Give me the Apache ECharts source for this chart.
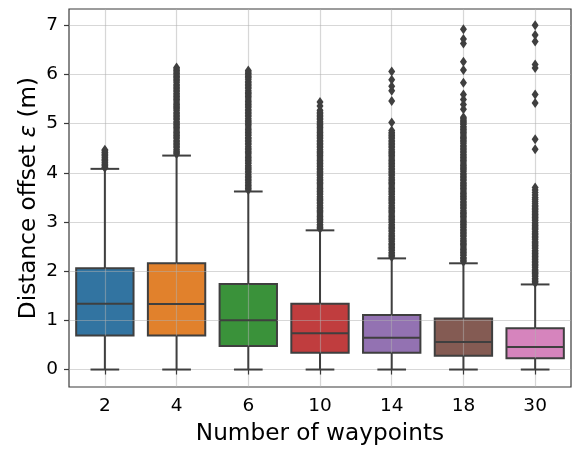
<!DOCTYPE html>
<html>
<head>
<meta charset="utf-8">
<script src="https://cdn.jsdelivr.net/npm/echarts@6/dist/echarts.min.js"></script>
<style>html,body{margin:0;padding:0;background:#fff;}#c{width:575px;height:450px;}</style>
</head>
<body>
<div id="c"></div>
<script>
// Categories (number of waypoints)
var categories = ['2', '4', '6', '10', '14', '18', '30'];
// Box statistics: [lowerWhisker, Q1, median, Q3, upperWhisker]
var box2  = [0, 0.69, 1.34, 2.06, 4.08];
var box4  = [0, 0.69, 1.33, 2.16, 4.35];
var box6  = [0, 0.48, 1.00, 1.74, 3.62];
var box10 = [0, 0.34, 0.74, 1.34, 2.83];
var box14 = [0, 0.34, 0.645, 1.11, 2.26];
var box18 = [0, 0.28, 0.56, 1.04, 2.16];
var box30 = [0, 0.23, 0.46, 0.84, 1.73];
// Outliers (fliers)
var out2 = [4.10, 4.12, 4.15, 4.17, 4.20, 4.22, 4.25, 4.27, 4.30, 4.32, 4.35, 4.37, 4.40, 4.42, 4.45, 4.47];
var out4 = [4.38, 4.41, 4.44, 4.47, 4.51, 4.54, 4.57, 4.60, 4.63, 4.66, 4.70, 4.73, 4.76, 4.79, 4.82, 4.85, 4.89, 4.92, 4.95, 4.98, 5.01, 5.04, 5.08, 5.11, 5.14, 5.17, 5.20, 5.23, 5.27, 5.30, 5.33, 5.36, 5.39, 5.42, 5.46, 5.49, 5.52, 5.55, 5.58, 5.61, 5.65, 5.68, 5.71, 5.74, 5.77, 5.80, 5.84, 5.87, 5.90, 5.93, 5.96, 5.99, 6.02, 6.05, 6.08, 6.11, 6.14];
var out6 = [3.65, 3.68, 3.71, 3.74, 3.77, 3.81, 3.84, 3.87, 3.90, 3.93, 3.96, 4.00, 4.03, 4.06, 4.09, 4.12, 4.15, 4.19, 4.22, 4.25, 4.28, 4.31, 4.34, 4.38, 4.41, 4.44, 4.47, 4.50, 4.53, 4.57, 4.60, 4.63, 4.66, 4.69, 4.72, 4.76, 4.79, 4.82, 4.85, 4.88, 4.91, 4.95, 4.98, 5.01, 5.04, 5.07, 5.10, 5.14, 5.17, 5.20, 5.23, 5.26, 5.29, 5.33, 5.36, 5.39, 5.42, 5.45, 5.48, 5.52, 5.55, 5.58, 5.61, 5.64, 5.67, 5.71, 5.74, 5.77, 5.80, 5.83, 5.86, 5.90, 5.93, 5.96, 5.99, 6.02, 6.05, 6.08];
var out10 = [2.86, 2.89, 2.92, 2.95, 2.99, 3.02, 3.05, 3.08, 3.11, 3.14, 3.18, 3.21, 3.24, 3.27, 3.30, 3.33, 3.37, 3.40, 3.43, 3.46, 3.49, 3.52, 3.56, 3.59, 3.62, 3.65, 3.68, 3.71, 3.75, 3.78, 3.81, 3.84, 3.87, 3.90, 3.94, 3.97, 4.00, 4.03, 4.06, 4.09, 4.13, 4.16, 4.19, 4.22, 4.25, 4.28, 4.32, 4.35, 4.38, 4.41, 4.44, 4.47, 4.51, 4.54, 4.57, 4.60, 4.63, 4.66, 4.70, 4.73, 4.76, 4.79, 4.82, 4.85, 4.89, 4.92, 4.95, 4.98, 5.01, 5.04, 5.08, 5.11, 5.14, 5.17, 5.20, 5.23, 5.27, 5.36, 5.44];
var out14 = [2.29, 2.32, 2.35, 2.38, 2.42, 2.45, 2.48, 2.51, 2.54, 2.57, 2.61, 2.64, 2.67, 2.70, 2.73, 2.76, 2.80, 2.83, 2.86, 2.89, 2.92, 2.95, 2.99, 3.02, 3.05, 3.08, 3.11, 3.14, 3.18, 3.21, 3.24, 3.27, 3.30, 3.33, 3.37, 3.40, 3.43, 3.46, 3.49, 3.52, 3.56, 3.59, 3.62, 3.65, 3.68, 3.71, 3.75, 3.78, 3.81, 3.84, 3.87, 3.90, 3.94, 3.97, 4.00, 4.03, 4.06, 4.09, 4.13, 4.16, 4.19, 4.22, 4.25, 4.28, 4.32, 4.35, 4.38, 4.41, 4.44, 4.47, 4.51, 4.54, 4.57, 4.60, 4.63, 4.66, 4.70, 4.73, 4.76, 4.79, 4.82, 4.86, 5.02, 5.46, 5.67, 5.76, 5.89, 6.06];
var out18 = [2.19, 2.22, 2.25, 2.28, 2.32, 2.35, 2.38, 2.41, 2.44, 2.47, 2.51, 2.54, 2.57, 2.60, 2.63, 2.66, 2.70, 2.73, 2.76, 2.79, 2.82, 2.85, 2.89, 2.92, 2.95, 2.98, 3.01, 3.04, 3.08, 3.11, 3.14, 3.17, 3.20, 3.23, 3.27, 3.30, 3.33, 3.36, 3.39, 3.42, 3.46, 3.49, 3.52, 3.55, 3.58, 3.61, 3.65, 3.68, 3.71, 3.74, 3.77, 3.80, 3.84, 3.87, 3.90, 3.93, 3.96, 3.99, 4.03, 4.06, 4.09, 4.12, 4.15, 4.18, 4.22, 4.25, 4.28, 4.31, 4.34, 4.37, 4.41, 4.44, 4.47, 4.50, 4.53, 4.56, 4.60, 4.63, 4.66, 4.69, 4.72, 4.75, 4.79, 4.82, 4.85, 4.88, 4.91, 4.94, 4.98, 5.01, 5.04, 5.07, 5.10, 5.13, 5.29, 5.39, 5.49, 5.59, 5.83, 6.09, 6.26, 6.63, 6.72, 6.92];
var out30 = [1.76, 1.79, 1.82, 1.85, 1.89, 1.92, 1.95, 1.98, 2.01, 2.04, 2.08, 2.11, 2.14, 2.17, 2.20, 2.23, 2.27, 2.30, 2.33, 2.36, 2.39, 2.42, 2.46, 2.49, 2.52, 2.55, 2.58, 2.61, 2.65, 2.68, 2.71, 2.74, 2.77, 2.80, 2.84, 2.87, 2.90, 2.93, 2.96, 2.99, 3.03, 3.06, 3.09, 3.12, 3.15, 3.18, 3.22, 3.25, 3.28, 3.31, 3.34, 3.38, 3.42, 3.46, 3.50, 3.55, 3.60, 3.65, 3.70, 4.48, 4.68, 5.42, 5.59, 6.13, 6.20, 6.67, 6.80, 7.00];
// Y tick labels
var yTicks = [0, 1, 2, 3, 4, 5, 6, 7];

var boxColors = ['#3274a1', '#e1812c', '#3a923a', '#c03d3e', '#9372b2', '#845b53', '#d684bd'];
var lineColor = '#3f3f3f';
var FONT = 'DejaVu Sans';

var boxes = [box2, box4, box6, box10, box14, box18, box30];
var outs = [out2, out4, out6, out10, out14, out18, out30];

var boxData = boxes.map(function (b, i) { return [i].concat(b); });
var outData = [];
outs.forEach(function (arr, i) { arr.forEach(function (v) { outData.push([i, v]); }); });

function renderBody(params, api) {
  var i = api.value(0);
  var band = api.size([1, 0])[0];
  var hw = band * 0.4;
  var q1 = api.coord([i, api.value(2)]);
  var q3 = api.coord([i, api.value(4)]);
  return {
    type: 'rect',
    shape: { x: q1[0] - hw, y: q3[1], width: hw * 2, height: q1[1] - q3[1] },
    style: { fill: boxColors[params.dataIndex], stroke: lineColor, lineWidth: 2 }
  };
}

function renderLines(params, api) {
  var i = api.value(0);
  var band = api.size([1, 0])[0];
  var hw = band * 0.4;
  var cw = band * 0.2;
  var lo = api.coord([i, api.value(1)]);
  var q1 = api.coord([i, api.value(2)]);
  var md = api.coord([i, api.value(3)]);
  var q3 = api.coord([i, api.value(4)]);
  var hi = api.coord([i, api.value(5)]);
  var x = lo[0];
  var st = { stroke: lineColor, lineWidth: 2, fill: null };
  return {
    type: 'group',
    children: [
      { type: 'line', shape: { x1: x, y1: q1[1], x2: x, y2: lo[1] }, style: st },
      { type: 'line', shape: { x1: x, y1: q3[1], x2: x, y2: hi[1] }, style: st },
      { type: 'line', shape: { x1: x - cw, y1: lo[1], x2: x + cw, y2: lo[1] }, style: st },
      { type: 'line', shape: { x1: x - cw, y1: hi[1], x2: x + cw, y2: hi[1] }, style: st },
      { type: 'line', shape: { x1: x - hw, y1: md[1], x2: x + hw, y2: md[1] }, style: st }
    ]
  };
}

var chart = echarts.init(document.getElementById('c'), null, { renderer: 'canvas' });
chart.setOption({
  animation: false,
  backgroundColor: '#ffffff',
  textStyle: { fontFamily: FONT },
  grid: {
    left: 69, right: 4, top: 9, bottom: 60,
    show: true, borderColor: '#3a3a3a', borderWidth: 1.2, backgroundColor: 'transparent'
  },
  xAxis: {
    type: 'category',
    data: categories,
    z: 3,
    boundaryGap: true,
    axisLine: { show: false },
    axisTick: { show: true, alignWithLabel: true, length: 5, lineStyle: { color: '#3a3a3a', width: 1.2 } },
    axisLabel: { color: '#000', fontSize: 18.5, fontFamily: FONT, margin: 10 },
    splitLine: { show: true, alignWithLabel: true, lineStyle: { color: 'rgba(176,176,176,0.5)', width: 1.2 } },
    name: 'Number of waypoints',
    nameLocation: 'middle',
    nameGap: 35,
    nameMoveOverlap: false,
    nameTextStyle: { color: '#000', fontSize: 23.2, fontFamily: FONT }
  },
  yAxis: {
    type: 'value',
    min: -0.355,
    max: 7.33,
    z: 3,
    axisLine: { show: false },
    axisTick: { show: true, length: 5, customValues: yTicks, lineStyle: { color: '#3a3a3a', width: 1.2 } },
    axisLabel: { color: '#000', fontSize: 18.5, fontFamily: FONT, margin: 11, customValues: yTicks },
    splitLine: { show: true, lineStyle: { color: 'rgba(176,176,176,0.5)', width: 1.2 } },
    name: 'Distance offset {i|ε} (m)',
    nameLocation: 'middle',
    nameGap: 29,
    nameMoveOverlap: false,
    nameTextStyle: {
      color: '#000', fontSize: 23.2, fontFamily: FONT,
      rich: { i: { fontStyle: 'italic', fontSize: 23.2, fontFamily: FONT, color: '#000' } }
    }
  },
  series: [
    { type: 'custom', z: 1, renderItem: renderBody, data: boxData, encode: { x: 0, y: [1, 2, 3, 4, 5] } },
    { type: 'custom', z: 5, renderItem: renderLines, data: boxData, encode: { x: 0, y: [1, 2, 3, 4, 5] } },
    {
      type: 'scatter', z: 6, data: outData,
      symbol: 'diamond', symbolSize: [7, 10],
      itemStyle: { color: lineColor, opacity: 1 }
    }
  ]
});
</script>
</body>
</html>
